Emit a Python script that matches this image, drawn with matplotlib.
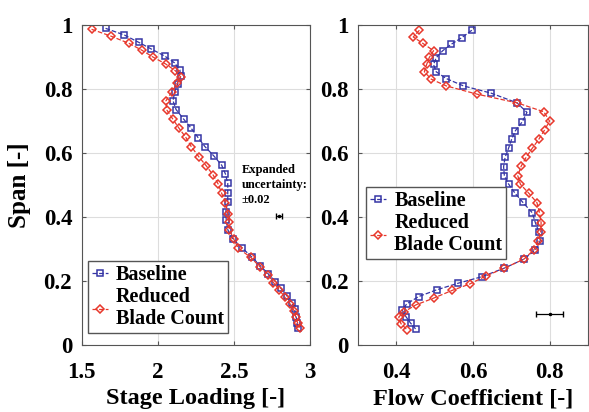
import numpy as np
from matplotlib import pyplot as plt

plt.rcParams['font.family'] = ['Liberation Serif', 'DejaVu Serif']
plt.rcParams['font.weight'] = 'bold'

# stage loading profiles (x = loading, y = span)
sl_base_x = [1.656, 1.78, 1.875, 1.958, 2.046, 2.11, 2.145, 2.15, 2.13, 2.11, 2.10, 2.12, 2.17,
             2.22, 2.265, 2.31, 2.37, 2.42, 2.445, 2.46, 2.46, 2.46, 2.447, 2.45, 2.46, 2.495,
             2.557, 2.62, 2.675, 2.726, 2.774, 2.81, 2.85, 2.88, 2.90, 2.91, 2.916, 2.92]
sl_base_y = [0.99, 0.969, 0.946, 0.925, 0.903, 0.882, 0.86, 0.84, 0.816, 0.79, 0.763, 0.736, 0.706,
             0.677, 0.648, 0.62, 0.59, 0.562, 0.534, 0.505, 0.476, 0.448, 0.417, 0.39, 0.36, 0.33,
             0.302, 0.274, 0.247, 0.222, 0.198, 0.177, 0.153, 0.132, 0.111, 0.088, 0.068, 0.052]
sl_red_x = [1.564, 1.689, 1.81, 1.893, 1.965, 2.053, 2.116, 2.15, 2.127, 2.09, 2.053, 2.06, 2.10,
            2.14, 2.184, 2.22, 2.27, 2.32, 2.364, 2.397, 2.42, 2.445, 2.46, 2.47, 2.47, 2.50,
            2.53, 2.61, 2.67, 2.726, 2.76, 2.80, 2.835, 2.87, 2.897, 2.908, 2.92, 2.934]
sl_red_y = [0.987, 0.966, 0.943, 0.922, 0.901, 0.878, 0.857, 0.838, 0.818, 0.79, 0.763, 0.734, 0.705,
            0.677, 0.649, 0.62, 0.588, 0.559, 0.531, 0.503, 0.474, 0.445, 0.41, 0.385, 0.36, 0.33,
            0.302, 0.274, 0.245, 0.219, 0.195, 0.172, 0.149, 0.128, 0.106, 0.086, 0.068, 0.054]

# flow coefficient profiles
fc_base_x = [0.597, 0.571, 0.543, 0.521, 0.504, 0.497, 0.504, 0.53, 0.575, 0.648, 0.715, 0.741,
             0.729, 0.711, 0.701, 0.693, 0.684, 0.68, 0.682, 0.693, 0.71, 0.73, 0.755, 0.763,
             0.772, 0.776, 0.763, 0.733, 0.682, 0.623, 0.562, 0.505, 0.458, 0.427, 0.415,
             0.425, 0.437, 0.45]
fc_base_y = [0.984, 0.961, 0.94, 0.92, 0.898, 0.877, 0.854, 0.833, 0.81, 0.787, 0.757, 0.727,
             0.698, 0.67, 0.643, 0.615, 0.587, 0.557, 0.529, 0.503, 0.474, 0.446, 0.413, 0.382,
             0.354, 0.326, 0.297, 0.268, 0.24, 0.213, 0.193, 0.172, 0.151, 0.128, 0.109,
             0.088, 0.068, 0.05]
fc_red_x = [0.46, 0.444, 0.469, 0.497, 0.486, 0.479, 0.473, 0.491, 0.53, 0.611, 0.715, 0.785,
            0.80, 0.787, 0.772, 0.755, 0.739, 0.726, 0.717, 0.724, 0.746, 0.767, 0.774, 0.778,
            0.777, 0.771, 0.759, 0.733, 0.682, 0.635, 0.591, 0.545, 0.497, 0.451, 0.421,
            0.406, 0.412, 0.428]
fc_red_y = [0.984, 0.963, 0.943, 0.92, 0.899, 0.877, 0.854, 0.831, 0.81, 0.784, 0.757, 0.729,
            0.70, 0.672, 0.643, 0.615, 0.587, 0.559, 0.529, 0.502, 0.474, 0.445, 0.412, 0.382,
            0.354, 0.326, 0.297, 0.268, 0.24, 0.216, 0.19, 0.17, 0.146, 0.125, 0.104,
            0.087, 0.066, 0.047]

blue = '#3535a5'
red = '#e8382c'
labels = ['Baseline', 'Reduced\nBlade Count']

fig = plt.figure(figsize=(5.89, 4.12), dpi=100)
ax1 = fig.add_axes([0.139, 0.163, 0.387, 0.776])
ax2 = fig.add_axes([0.608, 0.163, 0.390, 0.776])

def draw(ax, bx, by, rx, ry):
    ax.plot(bx, by, '--s', color=blue, mfc='none', ms=4.6, mew=1.1, lw=0.9, label=labels[0])
    ax.plot(rx, ry, '--D', color=red, mfc='none', ms=4.3, mew=1.1, lw=0.9, label=labels[1])
    ax.grid(True, color='#dddddd', lw=0.8)
    ax.set_ylim(0, 1)
    ax.set_yticks([0, 0.2, 0.4, 0.6, 0.8, 1])
    ax.set_yticklabels(['0', '0.2', '0.4', '0.6', '0.8', '1'])
    ax.tick_params(labelsize=16.5, length=3, color='#555555', direction='in', top=True, right=True)
    ax.tick_params(axis='x', pad=12)
    ax.tick_params(axis='y', pad=7)
    for s in ax.spines.values():
        s.set_color('#555555')
        s.set_linewidth(0.8)
    for t in ax.get_xticklabels() + ax.get_yticklabels():
        t.set_fontweight('bold')

def add_legend(ax, anchor):
    leg = ax.legend(loc='lower left', bbox_to_anchor=anchor, borderaxespad=0,
                    handlelength=0.8, handletextpad=0.4, borderpad=0.2, labelspacing=0.1,
                    fancybox=False, edgecolor='#555555', framealpha=1,
                    prop={'weight': 'bold', 'size': 14.5})
    for t in leg.get_texts():
        t.set_linespacing(1.1)
    return leg

draw(ax1, sl_base_x, sl_base_y, sl_red_x, sl_red_y)
ax1.set_xlim(1.5, 3)
ax1.set_xticks([1.5, 2, 2.5, 3])
ax1.set_xticklabels(['1.5', '2', '2.5', '3'], fontweight='bold')
ax1.set_xlabel('Stage Loading [-]', fontsize=17.5, fontweight='bold', labelpad=4)
ax1.set_ylabel('Span [-]', fontsize=18, fontweight='bold', labelpad=9)
ax1.errorbar([2.796], [0.404], xerr=[0.02], fmt='.', color='k', ms=3, lw=0.9, capsize=2)
ax1.text(2.55, 0.565, 'Expanded\nuncertainty:\n\u00b10.02', fontsize=9, fontweight='bold',
         va='top', ha='left', linespacing=1.3)
add_legend(ax1, (0.026, 0.037))

draw(ax2, fc_base_x, fc_base_y, fc_red_x, fc_red_y)
ax2.set_xlim(0.3, 0.9)
ax2.set_xticks([0.4, 0.6, 0.8])
ax2.set_xticklabels(['0.4', '0.6', '0.8'], fontweight='bold')
ax2.set_xlabel('Flow Coefficient [-]', fontsize=17.5, fontweight='bold', labelpad=4)
ax2.errorbar([0.8], [0.096], xerr=[0.035], fmt='.', color='k', ms=3, lw=0.9, capsize=2)
add_legend(ax2, (0.035, 0.269))

fig.savefig('out.png', dpi=100)
